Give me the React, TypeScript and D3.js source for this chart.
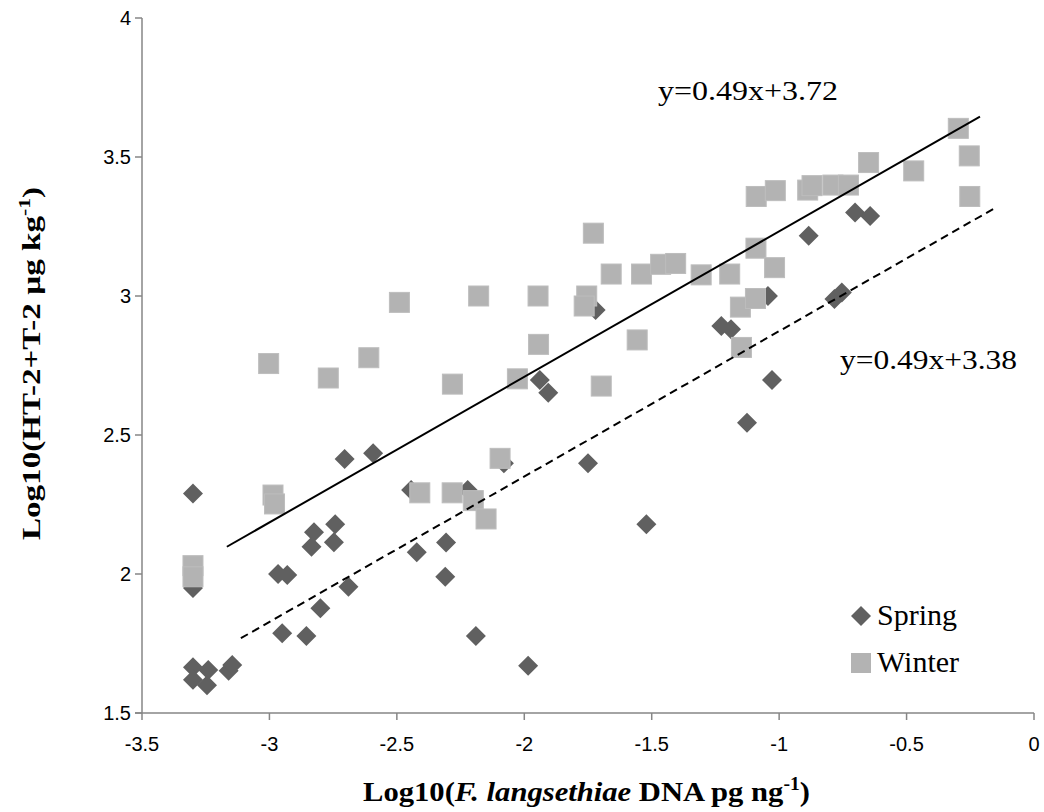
import React from "react";
import * as d3 from "d3";

const springX = [-3.30, -3.30, -3.30, -3.30, -3.24, -3.245, -3.16, -3.146, -2.966, -2.93, -2.825, -2.835, -2.742, -2.747, -2.69, -2.80, -2.95, -2.855, -2.705, -2.593, -2.444, -2.422, -2.307, -2.31, -2.222, -2.19, -1.985, -2.08, -1.939, -1.906, -1.75, -1.72, -1.521, -1.227, -1.189, -1.126, -1.028, -1.044, -1.08, -0.884, -0.783, -0.754, -0.702, -0.643];
const springY = [2.29, 1.95, 1.665, 1.62, 1.655, 1.60, 1.652, 1.673, 2.0, 1.996, 2.15, 2.098, 2.179, 2.114, 1.954, 1.877, 1.787, 1.777, 2.414, 2.434, 2.302, 2.078, 2.113, 1.99, 2.302, 1.777, 1.67, 2.398, 2.698, 2.652, 2.398, 2.95, 2.179, 2.892, 2.88, 2.544, 2.698, 3.0, 2.99, 3.217, 2.989, 3.013, 3.30, 3.288];

const winterX = [-3.30, -3.30, -3.003, -2.986, -2.98, -2.769, -2.61, -2.49, -2.41, -2.283, -2.282, -2.2, -2.179, -2.15, -2.095, -2.027, -1.946, -1.944, -1.755, -1.765, -1.729, -1.698, -1.659, -1.557, -1.54, -1.465, -1.406, -1.306, -1.194, -1.152, -1.148, -1.093, -1.091, -1.09, -1.018, -1.015, -0.888, -0.871, -0.789, -0.728, -0.649, -0.472, -0.297, -0.254, -0.252];
const winterY = [2.03, 1.99, 2.757, 2.284, 2.252, 2.705, 2.778, 2.977, 2.292, 2.292, 2.683, 2.264, 3.0, 2.198, 2.416, 2.702, 3.0, 2.826, 3.0, 2.964, 3.226, 2.676, 3.079, 2.842, 3.079, 3.114, 3.117, 3.076, 3.079, 2.96, 2.815, 2.991, 3.172, 3.358, 3.102, 3.379, 3.381, 3.397, 3.399, 3.399, 3.48, 3.45, 3.603, 3.504, 3.358];

// trend line endpoints [x, y]
const winterTrend = [[-3.167, 2.098], [-0.212, 3.645]];
const springTrend = [[-3.112, 1.769], [-0.156, 3.315]];

const xTicks = [-3.5, -3, -2.5, -2, -1.5, -1, -0.5, 0];
const yTicks = [1.5, 2, 2.5, 3, 3.5, 4];

const winterLabel = "y=0.49x+3.72";
const springLabel = "y=0.49x+3.38";
const seriesNames = ["Spring", "Winter"];

export default function App() {
  const x = d3.scaleLinear().domain([-3.5, 0]).range([142, 1034]);
  const y = d3.scaleLinear().domain([1.5, 4]).range([713, 18]);
  const line = d3.line<number[]>().x((d) => x(d[0])).y((d) => y(d[1]));
  const axisColor = "#868686";
  const springColor = "#606060";
  const winterColor = "#b3b3b3";
  const d = 10; // diamond half-diagonal
  const s = 10; // square half-size
  const tickFont = "Liberation Sans, Arial";
  return (
    <svg width={1044} height={812} style={{ position: "absolute", left: 0, top: 0, background: "#fff" }}>
      {/* axes */}
      <line x1={x(-3.5)} x2={x(-3.5)} y1={y(4)} y2={y(1.5)} stroke={axisColor} strokeWidth={1.5} />
      <line x1={x(-3.5) - 7} x2={x(0)} y1={y(1.5)} y2={y(1.5)} stroke={axisColor} strokeWidth={1.5} />
      {yTicks.map((t) => (
        <g key={"y" + t}>
          <line x1={x(-3.5) - 7} x2={x(-3.5)} y1={y(t)} y2={y(t)} stroke={axisColor} strokeWidth={1.5} />
          <text x={x(-3.5) - 11} y={y(t)} dy="0.35em" textAnchor="end" fontFamily={tickFont} fontSize={20} fill="#000">
            {String(t)}
          </text>
        </g>
      ))}
      {xTicks.map((t) => (
        <g key={"x" + t}>
          <line x1={x(t)} x2={x(t)} y1={y(1.5)} y2={y(1.5) + 7} stroke={axisColor} strokeWidth={1.5} />
          <text x={x(t)} y={y(1.5) + 31} dy="0.35em" textAnchor="middle" fontFamily={tickFont} fontSize={20} fill="#000">
            {String(t)}
          </text>
        </g>
      ))}
      {/* spring diamonds */}
      {springX.map((v, i) => {
        const cx = x(v), cy = y(springY[i]);
        return <path key={"s" + i} d={`M${cx},${cy - d}L${cx + d},${cy}L${cx},${cy + d}L${cx - d},${cy}Z`} fill={springColor} />;
      })}
      {/* winter squares */}
      {winterX.map((v, i) => {
        const cx = x(v), cy = y(winterY[i]);
        return <rect key={"w" + i} x={cx - s} y={cy - s} width={2 * s} height={2 * s} fill={winterColor} stroke="#bdbdbd" strokeWidth={1} />;
      })}
      {/* trend lines */}
      <path d={line(winterTrend) || ""} stroke="#000" strokeWidth={2} fill="none" />
      <path d={line(springTrend) || ""} stroke="#000" strokeWidth={2} fill="none" strokeDasharray="8,5" />
      {/* equations */}
      <text x={658} y={100} textLength={180} lengthAdjust="spacingAndGlyphs" fontFamily="Liberation Serif, Times New Roman" fontSize={27} fill="#000">{winterLabel}</text>
      <text x={840} y={369} textLength={177} lengthAdjust="spacingAndGlyphs" fontFamily="Liberation Serif, Times New Roman" fontSize={27} fill="#000">{springLabel}</text>
      {/* legend */}
      <path d={`M861,606L871,616L861,626L851,616Z`} fill={springColor} />
      <text x={877} y={625} fontFamily="Liberation Serif, Times New Roman" fontSize={30} fill="#000">{seriesNames[0]}</text>
      <rect x={851} y={653} width={20} height={20} fill={winterColor} />
      <text x={877} y={672} fontFamily="Liberation Serif, Times New Roman" fontSize={30} fill="#000">{seriesNames[1]}</text>
      {/* axis titles */}
      <text x={363} y={801} textLength={447} lengthAdjust="spacingAndGlyphs" fontFamily="Liberation Serif, Times New Roman" fontWeight="bold" fontSize={28} fill="#000">
        Log10(<tspan fontStyle="italic">F. langsethiae</tspan> DNA pg ng<tspan fontSize={18} dy={-11}>-1</tspan><tspan dy={11}>)</tspan>
      </text>
      <text transform="translate(40,540) rotate(-90)" textLength={353} lengthAdjust="spacingAndGlyphs" fontFamily="Liberation Serif, Times New Roman" fontWeight="bold" fontSize={26} fill="#000">
        Log10(HT-2+T-2 µg kg<tspan fontSize={17} dy={-10}>-1</tspan><tspan dy={10}>)</tspan>
      </text>
    </svg>
  );
}
